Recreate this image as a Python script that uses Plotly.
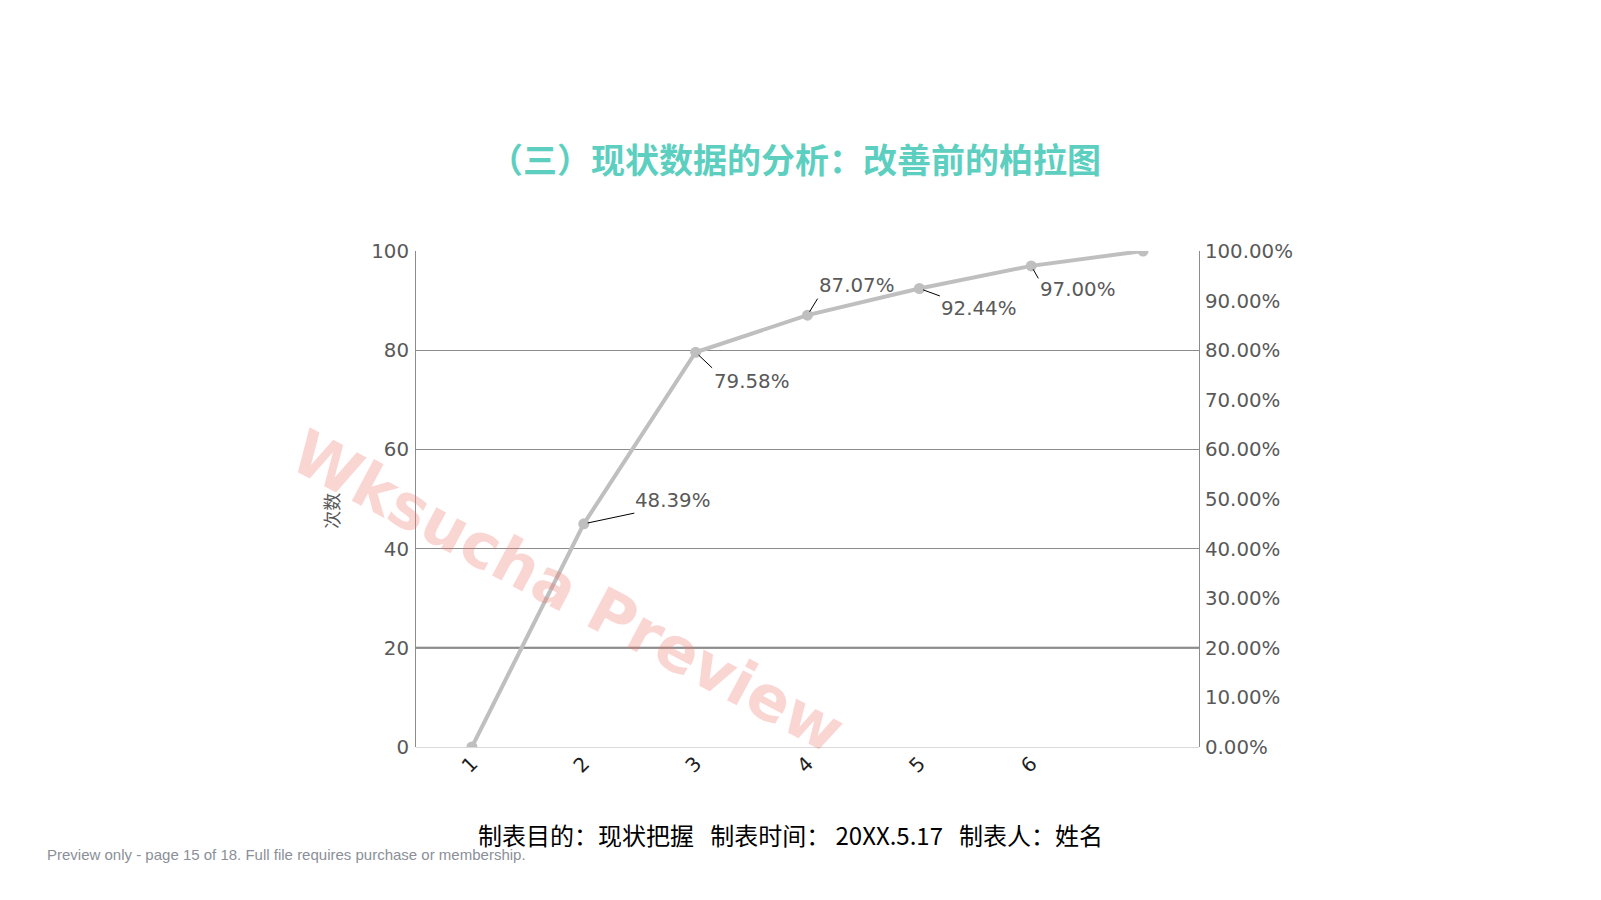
import plotly.graph_objects as go

# ---- data ----
categories = [1, 2, 3, 4, 5, 6, 7]
x_tick_labels = ["1", "2", "3", "4", "5", "6", ""]
cumulative_pct = [0.0, 45.0, 79.58, 87.07, 92.44, 97.00, 100.0]   # plotted positions (%)
point_labels = ["", "48.39%", "79.58%", "87.07%", "92.44%", "97.00%", ""]
left_ticks = [0, 20, 40, 60, 80, 100]
emphasis_grid = 20

# label centre offsets (pixels, +y = down) from their point
label_dx = [0, 89, 56, 49, 59, 46, 0]
label_dy = [0, -23, 29, -30, 20, 24, 0]
# leader line end offsets (pixels, +y = down) from their point
leader_dx = [0, 52, 18, 11, 22, 8, 0]
leader_dy = [0, -11, 17, -18, 8, 14, 0]

title_text = "（三）现状数据的分析：改善前的柏拉图"
footer_text = "制表目的：现状把握\u00a0\u00a0\u00a0制表时间：\u00a020XX.5.17\u00a0\u00a0\u00a0制表人：姓名"
preview_text = "Preview only - page 15 of 18. Full file requires purchase or membership."
watermark_text = "Wksucha Preview"
y_title = "次数"

W, H = 1601, 900
L, R, T, B = 415.6, 401.7, 250.7, 153.3
pw, ph = W - L - R, H - T - B

def px_x(px):
    return (px - L) / pw

def px_y(py):
    return (H - B - py) / ph

TICK_FONT = dict(family="DejaVu Sans", size=19.8, color="#595959")
GRID = "#8c8c8c"

fig = go.Figure()
fig.add_trace(go.Scatter(
    x=categories,
    y=[v / 100 for v in cumulative_pct],
    yaxis="y2",
    mode="lines+markers",
    line=dict(color="#bfbfbf", width=4),
    marker=dict(color="#bfbfbf", size=11),
    hoverinfo="skip",
    showlegend=False,
))

annotations = []
for xi, yi, lab, dx, dy, lx, ly in zip(categories, cumulative_pct, point_labels,
                                        label_dx, label_dy, leader_dx, leader_dy):
    if not lab:
        continue
    annotations.append(dict(
        x=xi, y=yi / 100, xref="x", yref="y2", text="",
        showarrow=True, ax=lx, ay=ly, arrowhead=0, arrowwidth=1,
        arrowcolor="#000000", standoff=4,
    ))
    annotations.append(dict(
        x=xi, y=yi / 100, xref="x", yref="y2", text=lab,
        showarrow=False, xshift=dx, yshift=-dy,
        xanchor="center", yanchor="middle",
        font=dict(family="DejaVu Sans", size=19.8, color="#595959"),
    ))

# axis title
annotations.append(dict(
    x=px_x(331), y=px_y(510), xref="paper", yref="paper", text=y_title,
    showarrow=False, textangle=-90, xanchor="center", yanchor="middle",
    font=dict(family="Noto Sans CJK SC", size=18, color="#595959"),
))
# footer
annotations.append(dict(
    x=px_x(790), y=px_y(834), xref="paper", yref="paper", text=footer_text,
    showarrow=False, xanchor="center", yanchor="middle",
    font=dict(family="Noto Sans CJK SC", size=24, color="#000000"),
))
# preview note
annotations.append(dict(
    x=px_x(44), y=px_y(854), xref="paper", yref="paper", text=preview_text,
    showarrow=False, xanchor="left", yanchor="middle",
    font=dict(family="Liberation Sans", size=15, color="#8a8f98"),
))
# watermark
annotations.append(dict(
    x=px_x(568), y=px_y(591), xref="paper", yref="paper",
    text="<b>" + watermark_text + "</b>",
    showarrow=False, textangle=28, xanchor="center", yanchor="middle",
    font=dict(family="DejaVu Sans", size=62, color="rgba(238,120,110,0.3)"),
))

fig.update_layout(
    width=W, height=H,
    margin=dict(l=L, r=R, t=T, b=B, pad=0),
    paper_bgcolor="white", plot_bgcolor="white",
    title=dict(
        text="<b>" + title_text + "</b>",
        x=795 / W, y=1 - 161 / H, xanchor="center", yanchor="middle",
        font=dict(family="Noto Sans CJK SC", size=34, color="#5ccfc0"),
    ),
    xaxis=dict(
        range=[0.5, 7.5], tickmode="array", tickvals=categories, ticktext=x_tick_labels,
        tickangle=-45, showgrid=False, zeroline=False, showline=False, ticks="",
        tickfont=dict(family="DejaVu Sans", size=20, color="#1f1f1f"),
    ),
    yaxis=dict(
        range=[0, 100], tickmode="array", tickvals=left_ticks,
        showgrid=True, gridcolor=GRID, gridwidth=1,
        zeroline=True, zerolinecolor="#d9d9d9", zerolinewidth=1,
        showline=True, linecolor=GRID, linewidth=1, ticks="",
        tickfont=TICK_FONT, ticklabelstandoff=2,
    ),
    yaxis2=dict(
        range=[0, 1], overlaying="y", side="right", dtick=0.1, tick0=0,
        tickformat=".2%", showgrid=False, zeroline=False,
        showline=True, linecolor=GRID, linewidth=1, ticks="",
        tickfont=TICK_FONT, ticklabelstandoff=1,
    ),
    shapes=[dict(
        type="line", xref="paper", x0=0, x1=1, yref="y", y0=emphasis_grid, y1=emphasis_grid,
        line=dict(color="#737373", width=2), layer="below",
    )],
    annotations=annotations,
)

fig.write_html("out.html")
